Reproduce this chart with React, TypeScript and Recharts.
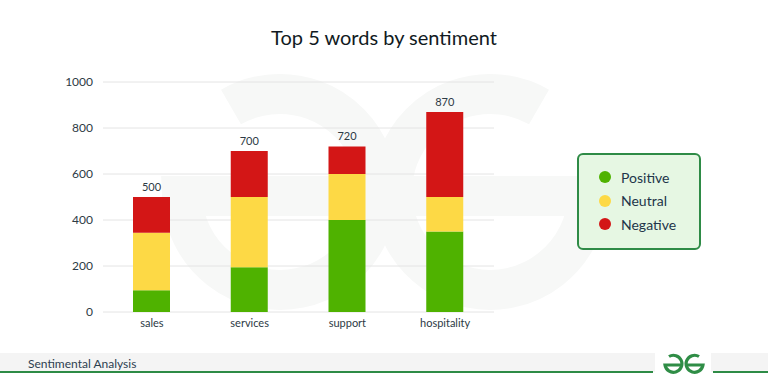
import React from "react";
import { BarChart, Bar, XAxis, YAxis, CartesianGrid, LabelList } from "recharts";

const categories = ["sales", "services", "support", "hospitality"];
const positive = [95, 195, 400, 350];
const neutral = [250, 305, 200, 150];
const negative = [155, 200, 120, 370];
const yTicks = [0, 200, 400, 600, 800, 1000];
const seriesNames = ["Positive", "Neutral", "Negative"];
const seriesColors = ["#4fb200", "#fdd945", "#d31616"];

const data = categories.map((c, i) => ({
  name: c,
  positive: positive[i],
  neutral: neutral[i],
  negative: negative[i],
  total: positive[i] + neutral[i] + negative[i],
}));

const FONT = "Lato, 'Noto Sans', sans-serif";

const TotalLabel = (props: any) => {
  const { x, y, width, index } = props;
  return (
    <text x={x + width / 2} y={y - 6} textAnchor="middle" fontSize={11} fill="#2d3a45" fontFamily={FONT}>
      {data[index].total}
    </text>
  );
};

const Watermark = () => (
  <svg width={768} height={384} style={{ position: "absolute", left: 0, top: 0 }}>
    <g fill="none" stroke="#f7f8f7" strokeWidth={40}>
      <path d="M 231 107 A 98 98 0 1 1 182 196 L 378 196" />
      <path d="M 539 107 A 98 98 0 1 0 588 196 L 392 196" />
    </g>
  </svg>
);

const Logo = () => (
  <svg width={44} height={22} viewBox="0 0 44 22" style={{ position: "absolute", left: 662, top: 352 }}>
    <g fill="none" stroke="#2f8d46" strokeWidth={3.2}>
      <path d="M 7 4.5 A 8.5 8.5 0 1 1 3 13 L 21 13" />
      <path d="M 37 4.5 A 8.5 8.5 0 1 0 41 13 L 23 13" />
    </g>
  </svg>
);

export default function App() {
  return (
    <div style={{ position: "absolute", left: 0, top: 0, width: 768, height: 384, background: "#fff", overflow: "hidden", fontFamily: FONT }}>
      <Watermark />
      <div style={{ position: "absolute", left: 0, top: 25, width: 768, textAlign: "center", fontSize: 20, color: "#111a22", fontFamily: FONT }}>
        Top 5 words by sentiment
      </div>
      <div style={{ position: "absolute", left: 0, top: 0 }}>
        <BarChart width={768} height={384} data={data} margin={{ top: 82, right: 274, bottom: 42, left: 0 }}>
          <CartesianGrid vertical={false} stroke="#e4e4e4" />
          <XAxis
            dataKey="name"
            axisLine={false}
            tickLine={false}
            tickSize={0}
            tickMargin={7}
            height={30}
            tick={{ fontSize: 11, fill: "#2d3a45", fontFamily: FONT }}
          />
          <YAxis
            domain={[0, 1000]}
            ticks={yTicks}
            axisLine={false}
            tickLine={false}
            tickSize={0}
            tickMargin={10}
            width={103}
            tick={{ fontSize: 12, fill: "#2d3a45", fontFamily: FONT }}
          />
          <Bar dataKey="positive" stackId="a" fill={seriesColors[0]} barSize={37} isAnimationActive={false} />
          <Bar dataKey="neutral" stackId="a" fill={seriesColors[1]} barSize={37} isAnimationActive={false} />
          <Bar dataKey="negative" stackId="a" fill={seriesColors[2]} barSize={37} isAnimationActive={false}>
            <LabelList dataKey="total" content={<TotalLabel />} />
          </Bar>
        </BarChart>
      </div>
      <div
        style={{
          position: "absolute",
          left: 577,
          top: 153,
          width: 120,
          height: 93,
          border: "2px solid #2e8b46",
          borderRadius: 6,
          background: "#e6f7e3",
        }}
      >
        {seriesNames.map((n, i) => (
          <div key={n} style={{ position: "absolute", left: 20, top: 12 + i * 23.5, height: 20, display: "flex", alignItems: "center" }}>
            <span style={{ width: 12, height: 12, borderRadius: 6, background: seriesColors[i], display: "inline-block" }} />
            <span style={{ marginLeft: 10, fontSize: 14, color: "#22354a", fontFamily: FONT }}>{n}</span>
          </div>
        ))}
      </div>
      <div style={{ position: "absolute", left: 0, top: 353, width: 768, height: 19, background: "#f4f4f4" }} />
      <div style={{ position: "absolute", left: 28, top: 356, fontSize: 12, color: "#2d3e50", fontFamily: FONT }}>Sentimental Analysis</div>
      <div style={{ position: "absolute", left: 0, top: 371, width: 653, height: 2, background: "#2e8b46" }} />
      <div style={{ position: "absolute", left: 713, top: 371, width: 55, height: 2, background: "#2e8b46" }} />
      <div style={{ position: "absolute", left: 655, top: 350, width: 56, height: 24, background: "#fff" }} />
      <Logo />
    </div>
  );
}
